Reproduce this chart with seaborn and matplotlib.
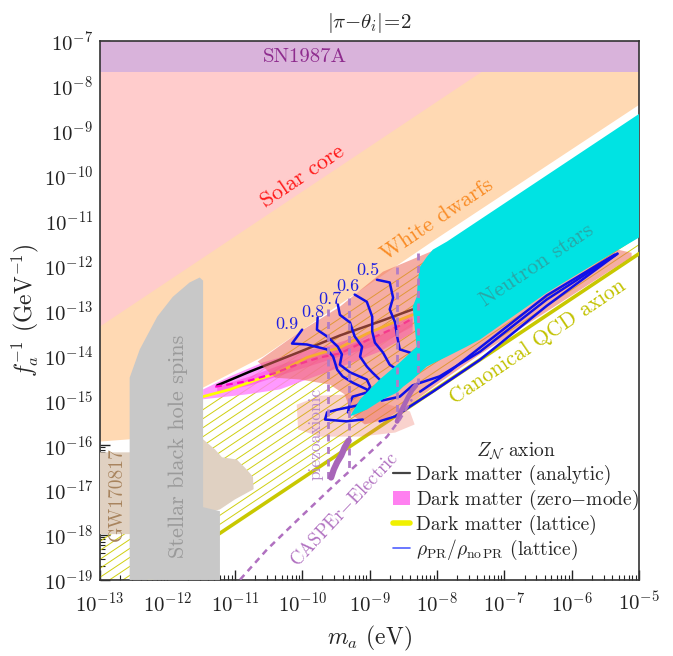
import numpy as np
import matplotlib
matplotlib.use("Agg")
import matplotlib.pyplot as plt
from matplotlib.lines import Line2D
from matplotlib.patches import Patch
from matplotlib.ticker import LogLocator, NullFormatter
import seaborn as sns


# -----------------------------
# Data
# (log10 m_a [eV], log10 1/f_a [GeV^-1])
# -----------------------------
sn1987a_band = [2e-8, 1e-7]

solar_lm = [-13.0, -6.64, -13.0]
solar_lf = [-13.36, -7.0, -7.0]

wd_lm = [-13.0, -12.56, -11.47, -10.58, -7.96, -5.0, -5.0, -13.0]
wd_lf = [-15.92, -15.87, -14.72, -14.03, -11.36, -8.43, -7.0, -7.0]

ns_lm = [-5.0, -7.85, -8.06, -8.15, -8.25, -8.28, -8.30, -8.36, -8.33, -8.30,
         -8.55, -8.85, -9.14, -9.29, -9.04, -8.80, -8.59, -8.50, -8.36, -8.15,
         -7.85, -7.56, -7.36, -6.37, -5.63, -5.0]
ns_lf = [-8.63, -11.47, -11.65, -11.81, -12.03, -12.32, -12.70, -12.92, -13.36, -13.81,
         -14.16, -14.54, -14.98, -15.36, -15.21, -14.98, -14.83, -14.70, -14.54, -14.25,
         -14.03, -13.81, -13.65, -12.61, -11.94, -11.38]

gw_lm = [-13.0, -12.56, -11.47, -11.29, -11.19, -10.97, -10.85, -10.73, -10.72,
         -11.00, -11.22, -12.56, -13.0]
gw_lf = [-16.16, -16.16, -15.87, -16.10, -16.27, -16.32, -16.50, -16.70, -16.98,
         -17.21, -17.43, -17.98, -17.98]

bh_lm = [-12.56, -12.56, -12.41, -12.15, -11.92, -11.67, -11.52, -11.47, -11.47,
         -11.22, -11.22]
bh_lf = [-19.0, -14.50, -13.87, -13.14, -12.70, -12.38, -12.27, -12.34, -17.38,
         -17.47, -19.0]

# canonical QCD axion line and the Z_N band above it
qcd_lm = [-13.0, -5.0]
qcd_lf = [-19.74, -11.74]
zn_band_width = 3.3

# pink region (lattice, PR) and its lighter lower part
pr_lm = [-10.66, -10.03, -9.44, -8.80, -8.10, -7.85, -5.58, -5.11, -5.11, -6.37,
         -7.36, -7.96, -8.40, -8.77, -9.07, -9.26, -9.37, -9.59, -10.03, -10.40]
pr_lf = [-14.14, -13.47, -12.92, -12.14, -11.70, -11.52, -11.56, -11.72, -11.81, -13.03,
         -13.98, -14.61, -15.10, -15.43, -15.54, -15.32, -14.87, -14.65, -14.54, -14.50]
pr_low_lm = [-10.08, -9.74, -9.29, -8.85, -8.40, -8.33, -8.62, -9.14, -9.74, -10.06]
pr_low_lf = [-15.10, -14.90, -14.87, -15.03, -15.25, -15.54, -15.72, -15.81, -15.81, -15.65]

# zero-mode dark matter band (outer and inner)
zm_lm = [-11.47, -11.07, -10.58, -10.08, -9.59, -8.85, -8.36,
         -8.36, -8.85, -9.44, -9.93, -10.33, -10.82, -11.47]
zm_lf = [-14.76, -14.47, -14.16, -13.94, -13.78, -13.43, -13.05,
         -13.50, -13.92, -14.27, -14.54, -14.76, -14.87, -14.98]
zm_in_lm = [-11.26, -10.77, -10.18, -9.59, -8.85, -8.36,
            -8.36, -8.85, -9.59, -10.18, -10.77, -11.26]
zm_in_lf = [-14.70, -14.47, -14.14, -13.90, -13.56, -13.18,
            -13.36, -13.76, -14.10, -14.38, -14.67, -14.83]

analytic_lm = [-11.26, -10.77, -10.03, -9.44, -8.85, -8.36]
analytic_lf = [-14.67, -14.36, -13.92, -13.56, -13.25, -12.98]

lattice_lm = [-11.47, -11.07, -10.67, -10.43, -10.18, -9.93, -9.69, -9.44, -9.04, -8.55, -8.36]
lattice_lf = [-14.92, -14.76, -14.54, -14.43, -14.25, -14.05, -13.94, -13.83, -13.52, -13.21, -13.10]

zm_mid_lm = [-11.29, -10.82, -10.43, -10.08, -9.74, -9.44, -9.04, -8.55, -8.36]
zm_mid_lf = [-14.70, -14.58, -14.41, -14.21, -14.05, -13.96, -13.67, -13.34, -13.18]

# rho_PR / rho_noPR contours
contour_levels = ["0.9", "0.8", "0.7", "0.6", "0.5"]
c09_lm = [-10.00, -10.15, -9.93, -9.63, -9.54, -9.48, -9.40, -9.25, -9.04, -8.99,
          -9.19, -9.48, -9.63, -9.66, -9.34, -9.10]
c09_lf = [-13.43, -13.74, -13.76, -13.87, -14.03, -14.32, -14.47, -14.61, -14.76, -14.92,
          -15.12, -15.21, -15.27, -15.43, -15.47, -15.43]
c08_lm = [-9.77, -9.78, -9.63, -9.47, -9.41, -9.44, -9.29, -9.04, -8.99, -9.04, -9.25, -9.29, -9.32]
c08_lf = [-13.16, -13.43, -13.58, -13.81, -13.98, -14.21, -14.38, -14.54, -14.70, -14.83, -14.92, -15.05, -15.27]
c07_lm = [-9.47, -9.44, -9.29, -9.22, -9.11, -9.14, -9.04, -8.96, -8.85]
c07_lf = [-12.87, -13.10, -13.27, -13.58, -13.81, -14.03, -14.25, -14.38, -14.54]
c06_lm = [-9.22, -9.04, -8.96, -8.96, -8.92, -8.80, -8.70, -8.59]
c06_lf = [-12.65, -12.81, -13.14, -13.47, -13.72, -13.94, -14.21, -14.32]
c05_lm = [-8.89, -8.70, -8.65, -8.70, -8.62, -8.59, -8.55, -8.40]
c05_lf = [-12.32, -12.38, -12.72, -12.98, -13.27, -13.58, -13.87, -13.94]
label_lm = [-10.23, -9.84, -9.59, -9.32, -9.02]
label_lf = [-13.32, -13.05, -12.76, -12.47, -12.10]

lr1_lm = [-8.85, -8.62, -8.40, -8.06, -7.36, -6.37, -5.32]
lr1_lf = [-15.47, -15.36, -15.14, -14.81, -14.10, -12.90, -11.74]
lr2_lm = [-8.82, -8.55, -8.36, -7.96, -7.36, -6.37, -5.32]
lr2_lf = [-15.01, -14.92, -14.67, -14.47, -13.92, -12.76, -11.74]
lr3_lm = [-8.25, -7.81, -7.36, -6.37, -5.36]
lr3_lf = [-14.81, -14.36, -13.83, -12.67, -11.76]

# piezoaxionic / CASPEr
piezo_lm = [-9.62, -9.31, -8.59, -8.28]
piezo_top = [-12.98, -12.72, -12.03, -11.72]
piezo_bot = [-16.83, -16.61, -15.27, -14.61]

cl1_lm = [-9.57, -9.53, -9.48, -9.42, -9.37, -9.31]
cl1_lf = [-16.72, -16.54, -16.38, -16.23, -16.05, -15.90]
cl2_lm = [-8.59, -8.55, -8.49, -8.43, -8.37, -8.31]
cl2_lf = [-15.47, -15.30, -15.12, -14.94, -14.78, -14.67]

casper_lm = [-10.92, -10.52, -10.03, -9.51, -9.07, -8.74, -8.55, -8.37]
casper_lf = [-18.99, -18.32, -17.61, -16.87, -16.27, -15.81, -15.43, -14.98]


# -----------------------------
# Helpers
# -----------------------------
def lin(v):
    return 10.0 ** np.asarray(v)


def region(ax, lm, lf, color, z, alpha=1.0):
    ax.fill(lin(lm), lin(lf), color=color, lw=0, alpha=alpha, zorder=z)


def curve(ax, lm, lf, color, lw, z, ls="-", alpha=1.0):
    sns.lineplot(
        x=lin(lm), y=lin(lf),
        sort=False, estimator=None,
        color=color, lw=lw, linestyle=ls, alpha=alpha,
        zorder=z, ax=ax
    )


def label(ax, lm, lf, txt, color, size, rot=0):
    ax.text(lin(lm), lin(lf), txt, color=color, fontsize=size, rotation=rot,
            ha="center", va="center", zorder=11)


# -----------------------------
# Figure
# -----------------------------
def main():

    sns.set_theme(style="ticks")
    plt.rcParams["font.family"] = ["cmr10", "DejaVu Serif"]
    plt.rcParams["mathtext.fontset"] = "cm"
    plt.rcParams["axes.formatter.use_mathtext"] = True
    plt.rcParams["axes.unicode_minus"] = False

    fig = plt.figure(figsize=(6.73, 6.56), dpi=100)
    ax = fig.add_axes([0.1486, 0.1159, 0.8009, 0.8221])

    ax.set_xscale("log")
    ax.set_yscale("log")
    ax.set_xlim(1e-13, 1e-5)
    ax.set_ylim(1e-19, 1e-7)

    # astrophysical bounds
    region(ax, wd_lm, wd_lf, "#FFD9B3", 1.0)
    region(ax, solar_lm, solar_lf, "#FFCCCC", 1.1)
    ax.axhspan(sn1987a_band[0], sn1987a_band[1], color="#D9B3DB", lw=0, zorder=1.2)

    # Z_N band hatching, parallel to the QCD line
    for k in range(1, 16):
        off = k * 0.2
        if off > zn_band_width - 0.05:
            break
        ax.plot(lin(qcd_lm), lin(np.asarray(qcd_lf) + off),
                color="#CFCF10", lw=0.7, zorder=2)

    curve(ax, qcd_lm, qcd_lf, "#C8C800", 2.6, 3)

    # zero-mode band and DM lines
    region(ax, zm_lm, zm_lf, "#FF80FF", 4, alpha=0.8)
    region(ax, zm_in_lm, zm_in_lf, "#FF33CC", 4.1, alpha=0.45)
    curve(ax, analytic_lm, analytic_lf, "black", 1.8, 5)
    curve(ax, lattice_lm, lattice_lf, "#FFFF00", 2.0, 5.1)
    curve(ax, zm_mid_lm, zm_mid_lf, "#FF00CC", 1.6, 5.2, ls=(0, (3, 2)))

    # lattice PR region
    region(ax, pr_lm, pr_lf, "#EE6A5A", 6, alpha=0.55)
    region(ax, pr_low_lm, pr_low_lf, "#EE6A5A", 6.1, alpha=0.3)

    # GW170817 and black hole spins
    region(ax, gw_lm, gw_lf, "#E0D1C2", 7)
    region(ax, bh_lm, bh_lf, "#C8C8C8", 7.5)

    # contours
    for lm, lf in [(c09_lm, c09_lf), (c08_lm, c08_lf), (c07_lm, c07_lf),
                   (c06_lm, c06_lf), (c05_lm, c05_lf),
                   (lr1_lm, lr1_lf), (lr2_lm, lr2_lf), (lr3_lm, lr3_lf)]:
        curve(ax, lm, lf, "#1010E8", 1.8, 8)

    for txt, lm, lf in zip(contour_levels, label_lm, label_lf):
        label(ax, lm, lf, txt, "#2020E0", 13)

    # neutron stars
    region(ax, ns_lm, ns_lf, "#00E3E3", 8.5)

    # piezoaxionic / CASPEr
    for lm, top, bot in zip(piezo_lm, piezo_top, piezo_bot):
        ax.plot([lin(lm), lin(lm)], [lin(top), lin(bot)], color="#B07CC6",
                lw=2, ls=(0, (2.5, 2)), zorder=9)
    curve(ax, cl1_lm, cl1_lf, "#A865B8", 4.5, 9)
    curve(ax, cl2_lm, cl2_lf, "#A865B8", 3.5, 9)
    curve(ax, casper_lm, casper_lf, "#B070C0", 1.8, 9, ls=(0, (2.5, 2)))

    # region labels
    label(ax, -9.96, -7.36, "SN1987A", "#8E2C8E", 15)
    label(ax, -9.99, -10.03, "Solar core", "#FF1A1A", 16, 34)
    label(ax, -8.0, -10.99, "White dwarfs", "#F98C26", 16, 34)
    label(ax, -6.52, -11.99, "Neutron stars", "#2AA6A6", 16, 34)
    label(ax, -6.50, -13.70, "Canonical QCD axion", "#C2C200", 15.5, 34)
    label(ax, -11.84, -16.03, "Stellar black hole spins", "#9A9A9A", 16, 90)
    label(ax, -12.75, -17.10, "GW170817", "#A8845E", 14, 90)
    label(ax, -9.80, -15.76, "piezoaxionic", "#B98BCB", 12.5, 90)
    label(ax, -9.37, -17.43, r"CASPEr$-$Electric", "#B070C0", 13.5, 47)

    # legend
    handles = [
        Line2D([], [], color="#444444", lw=1.6),
        Patch(facecolor="#FF80F0", edgecolor="none"),
        Line2D([], [], color="#F0F000", lw=4),
        Line2D([], [], color="#5060FF", lw=1.2),
    ]
    labels = [
        "Dark matter (analytic)",
        r"Dark matter (zero$-$mode)",
        "Dark matter (lattice)",
        r"$\rho_{\rm PR}/\rho_{\rm no\,PR}$ (lattice)",
    ]
    ax.legend(handles, labels, title=r"$Z_{\mathcal{N}}$ axion",
              loc="lower right", bbox_to_anchor=(1.022, 0.012),
              frameon=False, fontsize=14, title_fontsize=14,
              handlelength=0.9, handletextpad=0.3, labelspacing=0.15,
              borderaxespad=0.2)

    # axes styling
    ax.xaxis.set_major_locator(LogLocator(base=10, numticks=20))
    ax.yaxis.set_major_locator(LogLocator(base=10, numticks=20))
    ax.xaxis.set_minor_locator(LogLocator(base=10, subs=np.arange(2, 10), numticks=100))
    ax.yaxis.set_minor_locator(LogLocator(base=10, subs=np.arange(2, 10), numticks=100))
    ax.xaxis.set_minor_formatter(NullFormatter())
    ax.yaxis.set_minor_formatter(NullFormatter())
    ax.tick_params(which="both", direction="in", top=False, right=False,
                   colors="#222222", labelsize=15)
    ax.tick_params(which="major", length=7, width=1.0)
    ax.tick_params(which="minor", length=3.5, width=0.8)
    ax.tick_params(axis="x", which="major", pad=8)
    ax.tick_params(axis="y", which="major", pad=5)
    for sp in ax.spines.values():
        sp.set_linewidth(1.2)
        sp.set_color("#333333")

    ax.set_title(r"$|\pi{-}\theta_i|\!=\!2$", fontsize=15, pad=9)
    ax.set_xlabel(r"$m_a$ (eV)", fontsize=17, labelpad=6)
    ax.set_ylabel(r"$f_a^{-1}$ (GeV$^{-1}$)", fontsize=17, labelpad=2)

    fig.savefig("out.png", dpi=100)


if __name__ == "__main__":
    main()
